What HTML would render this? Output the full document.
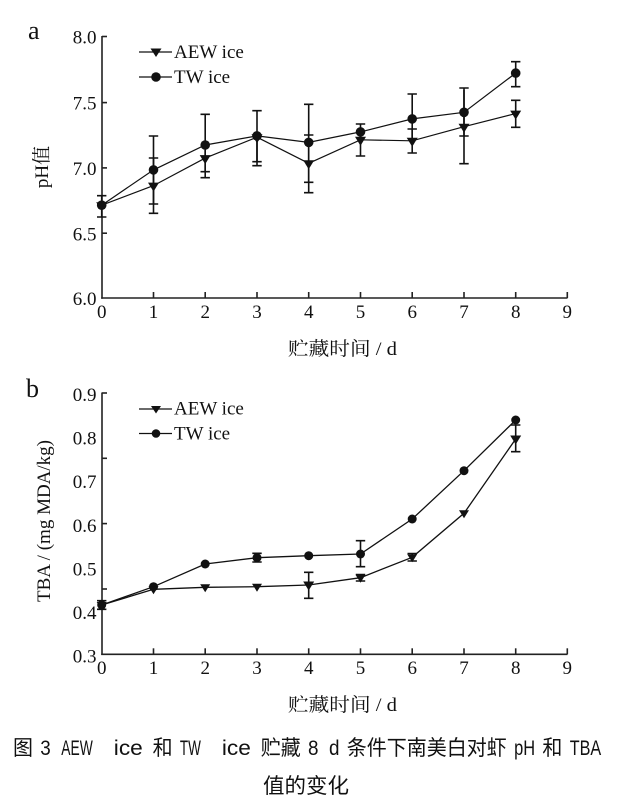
<!DOCTYPE html>
<html>
<head>
<meta charset="utf-8">
<style>
html,body{margin:0;padding:0;background:#fff;}
svg{display:block;}
.tick{font-family:"Liberation Serif","Noto Serif CJK SC",serif;font-size:19px;fill:#111;}
.lg{font-family:"Liberation Serif","Noto Serif CJK SC",serif;font-size:19px;fill:#111;}
.ttl{font-family:"Liberation Serif","Noto Serif CJK SC",serif;font-size:19px;fill:#111;}
.pan{font-family:"Liberation Serif",serif;font-size:26px;fill:#111;}
.cj{font-family:"Noto Sans CJK SC","WenQuanYi Zen Hei",sans-serif;font-size:21px;fill:#111;}
.la{font-family:"Liberation Sans","Noto Sans CJK SC",sans-serif;font-size:21px;fill:#111;}
</style>
</head>
<body>
<svg width="618" height="803" viewBox="0 0 618 803" xmlns="http://www.w3.org/2000/svg">
<rect x="0" y="0" width="618" height="803" fill="#fff"/>

<!-- ===== Panel a ===== -->
<text class="pan" x="28" y="39">a</text>
<g stroke="#222" stroke-width="1.6" fill="none">
  <line x1="102" y1="36" x2="102" y2="298.8"/>
  <line x1="101.2" y1="298" x2="567.5" y2="298"/>
  <line x1="102" y1="36.5" x2="107" y2="36.5"/>
  <line x1="102" y1="102.6" x2="107" y2="102.6"/>
  <line x1="102" y1="167.9" x2="107" y2="167.9"/>
  <line x1="102" y1="233.2" x2="107" y2="233.2"/>
  <line x1="153.5" y1="298" x2="153.5" y2="292"/>
  <line x1="205.2" y1="298" x2="205.2" y2="292"/>
  <line x1="257" y1="298" x2="257" y2="292"/>
  <line x1="308.7" y1="298" x2="308.7" y2="292"/>
  <line x1="360.5" y1="298" x2="360.5" y2="292"/>
  <line x1="412.2" y1="298" x2="412.2" y2="292"/>
  <line x1="464" y1="298" x2="464" y2="292"/>
  <line x1="515.7" y1="298" x2="515.7" y2="292"/>
  <line x1="567.3" y1="298" x2="567.3" y2="292"/>
</g>
<g class="tick" text-anchor="end">
  <text x="96.5" y="43.5">8.0</text>
  <text x="96.5" y="109.5">7.5</text>
  <text x="96.5" y="175">7.0</text>
  <text x="96.5" y="240.5">6.5</text>
  <text x="96.5" y="305">6.0</text>
</g>
<g class="tick" text-anchor="middle">
  <text x="101.7" y="318">0</text>
  <text x="153.5" y="318">1</text>
  <text x="205.2" y="318">2</text>
  <text x="257" y="318">3</text>
  <text x="308.7" y="318">4</text>
  <text x="360.5" y="318">5</text>
  <text x="412.2" y="318">6</text>
  <text x="464" y="318">7</text>
  <text x="515.7" y="318">8</text>
  <text x="567.3" y="318">9</text>
</g>
<text class="ttl" transform="translate(48,167) rotate(-90)" text-anchor="middle">pH值</text>
<text class="ttl" x="288" y="355" textLength="109" lengthAdjust="spacingAndGlyphs">贮藏时间 / d</text>

<g stroke="#111" stroke-width="1.6" fill="none">
  <path d="M101.7 195.7V217 M97 195.7H106.4 M97 217H106.4"/>
  <path d="M153.5 136V204 M148.8 136H158.2 M148.8 204H158.2"/>
  <path d="M205.2 114.3V177.7 M200.5 114.3H209.9 M200.5 177.7H209.9"/>
  <path d="M257 110.7V161.7 M252.3 110.7H261.7 M252.3 161.7H261.7"/>
  <path d="M308.7 104.3V182.3 M304 104.3H313.4 M304 182.3H313.4"/>
  <path d="M360.5 124V140 M355.8 124H365.2"/>
  <path d="M412.2 94V143.7 M407.5 94H416.9 M407.5 129H416.9"/>
  <path d="M464 88V136 M459.3 88H468.7 M459.3 136H468.7"/>
  <path d="M515.7 61.7V86.7 M511 61.7H520.4 M511 86.7H520.4"/>
  <path d="M153.5 158V213.3 M148.8 158H158.2 M148.8 213.3H158.2"/>
  <path d="M205.2 150V171.7 M200.5 171.7H209.9"/>
  <path d="M257 137V165.7 M252.3 165.7H261.7"/>
  <path d="M308.7 135V192.7 M304 135H313.4 M304 192.7H313.4"/>
  <path d="M360.5 131V156 M355.8 156H365.2"/>
  <path d="M412.2 129V153 M407.5 153H416.9"/>
  <path d="M464 90V163.7 M459.3 163.7H468.7"/>
  <path d="M515.7 100.3V127.3 M511 100.3H520.4 M511 127.3H520.4"/>
</g>
<polyline fill="none" stroke="#111" stroke-width="1.2" points="101.7,205.2 153.5,169.9 205.2,145 257,135.9 308.7,142.4 360.5,131.9 412.2,118.9 464,112.3 515.7,73.1"/>
<polyline fill="none" stroke="#111" stroke-width="1.2" points="101.7,205.2 153.5,185.6 205.2,158.1 257,137.2 308.7,163.3 360.5,139.8 412.2,140.8 464,126.7 515.7,113.6"/>
<g fill="#111">
  <circle cx="101.7" cy="205.2" r="4.8"/>
  <circle cx="153.5" cy="169.9" r="4.8"/>
  <circle cx="205.2" cy="145" r="4.8"/>
  <circle cx="257" cy="135.9" r="4.8"/>
  <circle cx="308.7" cy="142.4" r="4.8"/>
  <circle cx="360.5" cy="131.9" r="4.8"/>
  <circle cx="412.2" cy="118.9" r="4.8"/>
  <circle cx="464" cy="112.3" r="4.8"/>
  <circle cx="515.7" cy="73.1" r="4.8"/>
  <path d="M96.2 202.2H107.2L101.7 211.2Z"/>
  <path d="M148 182.6H159L153.5 191.6Z"/>
  <path d="M199.7 155.1H210.7L205.2 164.1Z"/>
  <path d="M251.5 134.2H262.5L257 143.2Z"/>
  <path d="M303.2 160.3H314.2L308.7 169.3Z"/>
  <path d="M355 136.8H366L360.5 145.8Z"/>
  <path d="M406.7 137.8H417.7L412.2 146.8Z"/>
  <path d="M458.5 123.7H469.5L464 132.7Z"/>
  <path d="M510.2 110.6H521.2L515.7 119.6Z"/>
</g>
<g stroke="#111" stroke-width="1.3">
  <line x1="139" y1="52" x2="172" y2="52"/>
  <line x1="139" y1="77" x2="172" y2="77"/>
</g>
<path d="M150.5 48.5H161.5L156 57Z" fill="#111"/>
<circle cx="156" cy="77" r="4.8" fill="#111"/>
<text class="lg" x="174" y="58">AEW ice</text>
<text class="lg" x="174" y="83">TW ice</text>

<!-- ===== Panel b ===== -->
<text class="pan" x="26" y="397">b</text>
<g stroke="#222" stroke-width="1.6" fill="none">
  <line x1="102" y1="392.5" x2="102" y2="655"/>
  <line x1="101.2" y1="654.3" x2="567.5" y2="654.3"/>
  <line x1="102" y1="393" x2="107" y2="393"/>
  <line x1="102" y1="458.3" x2="107" y2="458.3"/>
  <line x1="102" y1="523.6" x2="107" y2="523.6"/>
  <line x1="102" y1="589" x2="107" y2="589"/>
  <line x1="153.5" y1="654.3" x2="153.5" y2="648.3"/>
  <line x1="205.2" y1="654.3" x2="205.2" y2="648.3"/>
  <line x1="257" y1="654.3" x2="257" y2="648.3"/>
  <line x1="308.7" y1="654.3" x2="308.7" y2="648.3"/>
  <line x1="360.5" y1="654.3" x2="360.5" y2="648.3"/>
  <line x1="412.2" y1="654.3" x2="412.2" y2="648.3"/>
  <line x1="464" y1="654.3" x2="464" y2="648.3"/>
  <line x1="515.7" y1="654.3" x2="515.7" y2="648.3"/>
  <line x1="567.3" y1="654.3" x2="567.3" y2="648.3"/>
</g>
<g class="tick" text-anchor="end">
  <text x="96.5" y="401">0.9</text>
  <text x="96.5" y="444.6">0.8</text>
  <text x="96.5" y="488.2">0.7</text>
  <text x="96.5" y="531.8">0.6</text>
  <text x="96.5" y="575.4">0.5</text>
  <text x="96.5" y="619">0.4</text>
  <text x="96.5" y="662.5">0.3</text>
</g>
<g class="tick" text-anchor="middle">
  <text x="101.7" y="674">0</text>
  <text x="153.5" y="674">1</text>
  <text x="205.2" y="674">2</text>
  <text x="257" y="674">3</text>
  <text x="308.7" y="674">4</text>
  <text x="360.5" y="674">5</text>
  <text x="412.2" y="674">6</text>
  <text x="464" y="674">7</text>
  <text x="515.7" y="674">8</text>
  <text x="567.3" y="674">9</text>
</g>
<text class="ttl" transform="translate(50,521) rotate(-90)" text-anchor="middle">TBA / (mg MDA/kg)</text>
<text class="ttl" x="288" y="711" textLength="109" lengthAdjust="spacingAndGlyphs">贮藏时间 / d</text>

<g stroke="#111" stroke-width="1.6" fill="none">
  <path d="M101.7 600.7V609.3 M97 600.7H106.4 M97 609.3H106.4"/>
  <path d="M257 553.3V562 M252.3 553.3H261.7 M252.3 562H261.7"/>
  <path d="M308.7 572.3V598.3 M304 572.3H313.4 M304 598.3H313.4"/>
  <path d="M360.5 540.7V566.7 M355.8 540.7H365.2 M355.8 566.7H365.2"/>
  <path d="M360.5 574.5V581 M355.8 574.5H365.2 M355.8 581H365.2"/>
  <path d="M412.2 553.5V561 M407.5 553.5H416.9 M407.5 561H416.9"/>
  <path d="M515.7 425V451.7 M511 425H520.4 M511 451.7H520.4"/>
</g>
<polyline fill="none" stroke="#111" stroke-width="1.3" points="101.7,605 153.5,586.7 205.2,564 257,557.7 308.7,555.7 360.5,554 412.2,519 464,470.7 515.7,420"/>
<polyline fill="none" stroke="#111" stroke-width="1.3" points="101.7,605 153.5,589.3 205.2,587.3 257,586.7 308.7,585 360.5,577.7 412.2,557.3 464,513.3 515.7,439"/>
<g fill="#111">
  <circle cx="101.7" cy="605" r="4.5"/>
  <circle cx="153.5" cy="586.7" r="4.5"/>
  <circle cx="205.2" cy="564" r="4.5"/>
  <circle cx="257" cy="557.7" r="4.5"/>
  <circle cx="308.7" cy="555.7" r="4.5"/>
  <circle cx="360.5" cy="554" r="4.5"/>
  <circle cx="412.2" cy="519" r="4.5"/>
  <circle cx="464" cy="470.7" r="4.5"/>
  <circle cx="515.7" cy="420" r="4.5"/>
  <path d="M96.7 602H106.7L101.7 610Z"/>
  <path d="M148.5 586.3H158.5L153.5 594.3Z"/>
  <path d="M200.2 584.3H210.2L205.2 592.3Z"/>
  <path d="M252 583.7H262L257 591.7Z"/>
  <path d="M303.2 581.5H314.2L308.7 590.5Z"/>
  <path d="M355.5 574.7H365.5L360.5 582.7Z"/>
  <path d="M407.2 554.3H417.2L412.2 562.3Z"/>
  <path d="M459 510.3H469L464 518.3Z"/>
  <path d="M510.2 435.5H521.2L515.7 444.5Z"/>
</g>
<g stroke="#111" stroke-width="1.3">
  <line x1="139" y1="409" x2="172" y2="409"/>
  <line x1="139" y1="433.5" x2="172" y2="433.5"/>
</g>
<path d="M151 406H161L156 413.5Z" fill="#111"/>
<circle cx="156" cy="433.5" r="4.3" fill="#111"/>
<text class="lg" x="174" y="414.5">AEW ice</text>
<text class="lg" x="174" y="439.5">TW ice</text>

<!-- caption line 1 -->
<text class="cj" x="13" y="755" textLength="20" lengthAdjust="spacingAndGlyphs">图</text>
<text class="la" x="40.3" y="755" textLength="10.5" lengthAdjust="spacingAndGlyphs">3</text>
<text class="la" x="61.3" y="755" textLength="31.5" lengthAdjust="spacingAndGlyphs">AEW</text>
<text class="la" x="113.8" y="755" textLength="29" lengthAdjust="spacingAndGlyphs">ice</text>
<text class="cj" x="152.6" y="755" textLength="20" lengthAdjust="spacingAndGlyphs">和</text>
<text class="la" x="179.9" y="755" textLength="21" lengthAdjust="spacingAndGlyphs">TW</text>
<text class="la" x="221.9" y="755" textLength="29" lengthAdjust="spacingAndGlyphs">ice</text>
<text class="cj" x="260.7" y="755" textLength="40" lengthAdjust="spacingAndGlyphs">贮藏</text>
<text class="la" x="308" y="755" textLength="10.5" lengthAdjust="spacingAndGlyphs">8</text>
<text class="la" x="329" y="755" textLength="10.5" lengthAdjust="spacingAndGlyphs">d</text>
<text class="cj" x="346.8" y="755" textLength="160" lengthAdjust="spacingAndGlyphs">条件下南美白对虾</text>
<text class="la" x="514.1" y="755" textLength="21" lengthAdjust="spacingAndGlyphs">pH</text>
<text class="cj" x="542.4" y="755" textLength="20" lengthAdjust="spacingAndGlyphs">和</text>
<text class="la" x="569.7" y="755" textLength="31.5" lengthAdjust="spacingAndGlyphs">TBA</text>
<!-- caption line 2 -->
<text class="cj" x="263" y="793" textLength="86" lengthAdjust="spacingAndGlyphs">值的变化</text>
</svg>
</body>
</html>
